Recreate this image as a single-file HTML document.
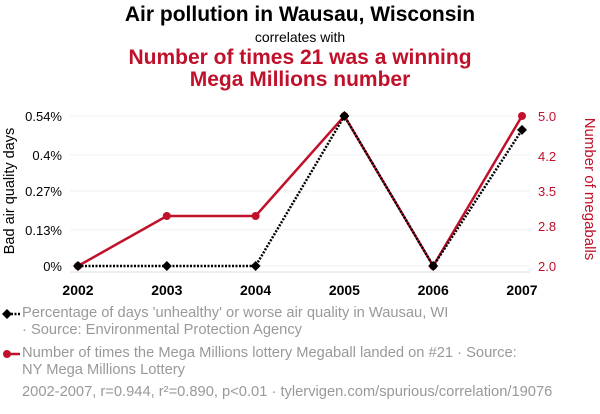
<!DOCTYPE html>
<html><head><meta charset="utf-8"><style>
body{margin:0;background:#fff;font-family:"Liberation Sans",sans-serif;}
#c{position:relative;width:600px;height:414px;overflow:hidden}
.t{position:absolute;left:0;width:600px;text-align:center}
.leg{position:absolute;left:22px;color:#999;font-size:14.7px;line-height:17px;white-space:nowrap}
</style></head><body><div id="c">
<div class="t" style="top:3px;font-size:21px;font-weight:bold;color:#000">Air pollution in Wausau, Wisconsin</div>
<div class="t" style="top:29px;font-size:14px;color:#000">correlates with</div>
<div class="t" style="top:47px;font-size:21px;font-weight:bold;color:#c0102a;line-height:22px">Number of times 21 was a winning<br>Mega Millions number</div>
<svg id="s" width="600" height="414" style="position:absolute;left:0;top:0"></svg>
<div class="leg" style="top:305px">Percentage of days 'unhealthy' or worse air quality in Wausau, WI<br>· Source: Environmental Protection Agency</div>
<div class="leg" style="top:345px">Number of times the Mega Millions lottery Megaball landed on #21 · Source:<br>NY Mega Millions Lottery</div>
<div class="leg" style="top:384px;left:22px">2002-2007, r=0.944, r²=0.890, p&lt;0.01 · tylervigen.com/spurious/correlation/19076</div>
</div>
<script>
const years=[2002,2003,2004,2005,2006,2007];
const pollution=[0,0,0,0.54,0,0.49];
const megaballs=[2,3,3,5,2,5];
const leftTicks=[0,0.13,0.27,0.4,0.54];
const leftLabels=["0%","0.13%","0.27%","0.4%","0.54%"];
const rightTicks=[2.0,2.8,3.5,4.2,5.0];
const NS="http://www.w3.org/2000/svg",s=document.getElementById('s');
const X0=78,X1=522,Y0=266,Y1=116;
const x=i=>X0+(X1-X0)*i/(years.length-1);
const yl=v=>Y0-(Y0-Y1)*v/0.54;
const yr=v=>Y0-(Y0-Y1)*(v-2)/3;
function el(t,a,txt){const e=document.createElementNS(NS,t);for(const k in a)e.setAttribute(k,a[k]);if(txt!=null)e.textContent=txt;s.appendChild(e);return e;}
leftTicks.forEach((v,i)=>{
 const g=el('line',{x1:70,x2:530,y1:yl(v),y2:yl(v),stroke:'#f0f0f0'});
 
 
 const t=el('text',{x:62,y:yl(v)+5,'text-anchor':'end','font-size':13,fill:'#000'},leftLabels[i]);
 
 
});
rightTicks.forEach(v=>{
 const t=el('text',{x:538,y:yr(v)+5,'font-size':13,fill:'#c0102a'},v.toFixed(1));
 
 
});
const ax=el('line',{x1:70,x2:530,y1:Y0+6,y2:Y0+6,stroke:'#ddd'});


years.forEach((yv,i)=>{
 const t=el('text',{x:x(i),y:295,'text-anchor':'middle','font-size':14,'font-weight':'bold',fill:'#000'},yv);
 
 
});
const yt=el('text',{transform:'translate(14,191) rotate(-90)','text-anchor':'middle','font-size':14.5,fill:'#000'},'Bad air quality days');


const yt2=el('text',{transform:'translate(585,189) rotate(90)','text-anchor':'middle','font-size':15,fill:'#c0102a'},'Number of megaballs');


const rl=el('polyline',{points:megaballs.map((v,i)=>x(i)+','+yr(v)).join(' '),fill:'none',stroke:'#c0102a','stroke-width':2.5});


megaballs.forEach((v,i)=>{const c=el('circle',{cx:x(i),cy:yr(v),r:4,fill:'#c0102a'});
 
 });
const bl=el('polyline',{points:pollution.map((v,i)=>x(i)+','+yl(v)).join(' '),fill:'none',stroke:'#000','stroke-width':2.5,'stroke-dasharray':'2,1.5'});


pollution.forEach((v,i)=>{const cx=x(i),cy=yl(v);const p=el('polygon',{points:`${cx},${cy-5} ${cx+5},${cy} ${cx},${cy+5} ${cx-5},${cy}`,fill:'#000'});
 
 });
const l1=el('line',{x1:4,x2:20,y1:314,y2:314,stroke:'#000','stroke-width':2.5,'stroke-dasharray':'2,1.5'});


el('polygon',{points:'7,309 12,314 7,319 2,314',fill:'#000'});
const l2=el('line',{x1:4,x2:20,y1:354,y2:354,stroke:'#c0102a','stroke-width':2.5});


el('circle',{cx:7,cy:354,r:4,fill:'#c0102a'});
</script></body></html>
